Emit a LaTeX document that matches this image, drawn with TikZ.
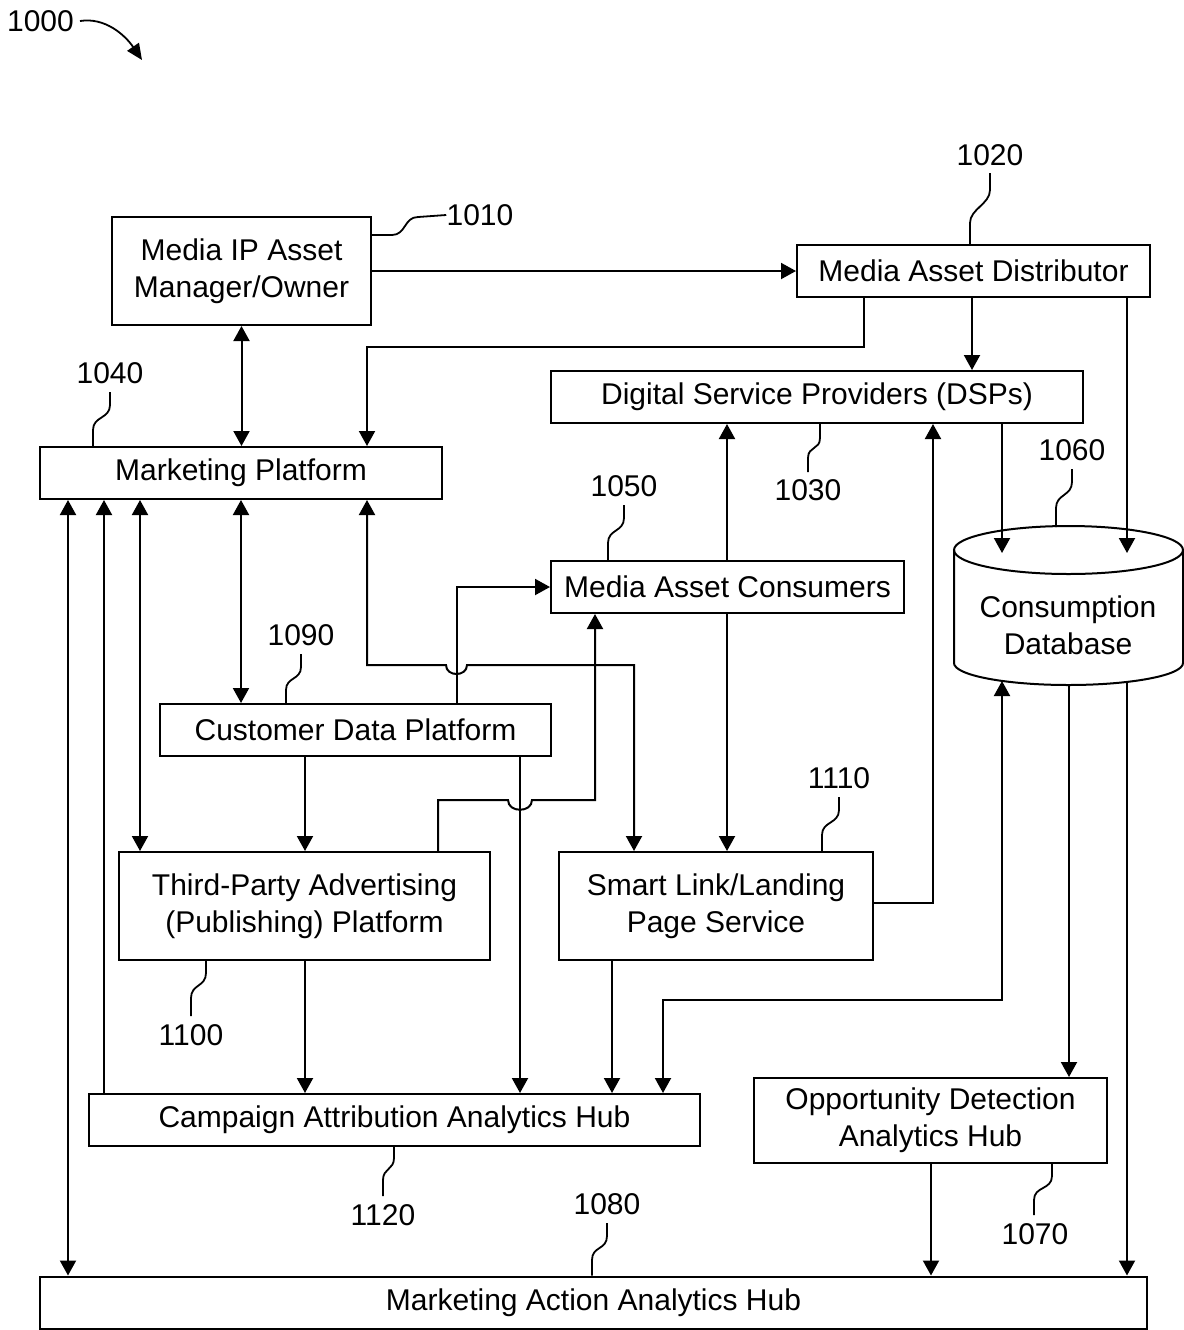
\documentclass[tikz,border=0pt]{standalone}
\usepackage{fontspec}
\setmainfont{Liberation Sans}
\usetikzlibrary{arrows.meta}
\begin{document}
\begin{tikzpicture}[x=0.5pt,y=-0.5pt,
  every node/.style={font=\fontsize{15pt}{18.5pt}\selectfont},
  box/.style={draw, line width=1pt, inner sep=0pt, align=center},
  wire/.style={line width=1pt},
  lead/.style={line width=0.9pt},
  num/.style={inner sep=0pt},
  >={Triangle[length=7.5pt,width=8pt]}]
\useasboundingbox (0,0) rectangle (1184,1330);

% ---- blocks ----
\node[box, minimum width=129.5pt, minimum height=54pt] (ipam) at (241.5,271) {Media IP Asset\\Manager/Owner};
\node[box, minimum width=176.5pt, minimum height=26pt] (mad) at (973.5,271) {Media Asset Distributor};
\node[box, minimum width=266pt, minimum height=26pt] (dsp) at (817,397) {Digital Service Providers (DSPs)};
\node[box, minimum width=201pt, minimum height=26pt] (mp) at (241,473) {Marketing Platform};
\node[box, minimum width=176.5pt, minimum height=26pt] (mac) at (727.5,587) {Media Asset Consumers};
\node[box, minimum width=195.5pt, minimum height=26pt] (cdp) at (355.5,730) {Customer Data Platform};
\node[box, minimum width=185.5pt, minimum height=54pt] (tpa) at (304.5,906) {Third-Party Advertising\\(Publishing) Platform};
\node[box, minimum width=157pt, minimum height=54pt] (sls) at (716,906) {Smart Link/Landing\\Page Service};
\node[box, minimum width=305.5pt, minimum height=26pt] (cah) at (394.5,1120) {Campaign Attribution Analytics Hub};
\node[box, minimum width=176.5pt, minimum height=42.5pt] (oda) at (930.5,1120.5) {Opportunity Detection\\Analytics Hub};
\node[box, minimum width=553.5pt, minimum height=26pt] (maah) at (593.5,1302.5) {Marketing Action Analytics Hub};

% ---- consumption database (cylinder) ----
\draw[line width=1pt] (1068.5,550) ellipse [x radius=57.25pt, y radius=12pt];
\draw[line width=1pt] (954,550) -- (954,663)
  arc[start angle=180, end angle=360, x radius=57.25pt, y radius=11pt] -- (1183,550);
\node[align=center] (cdb) at (1068,625) {Consumption\\Database};
\coordinate (cdbTL) at (1002,553);
\coordinate (cdbTR) at (1127,553);
\coordinate (cdbBL) at (1002,681);
\coordinate (cdbBM) at (1069,685);
\coordinate (cdbBR) at (1127,682);

% ---- connectors ----
\draw[wire,->] (ipam) -- (mad);
\draw[wire,<->] (ipam.south) -- (ipam.south |- mp.north);
\draw[wire,->] (mad.south -| 864,0) -- (864,347) -| (mp.north -| 367,0);
\draw[wire,->] (mad.south -| 972,0) -- (dsp.north -| 972,0);
\draw[wire,->] (mad.south -| 1127,0) -- (cdbTR);
\draw[wire,->] (dsp.south -| 1002,0) -- (cdbTL);
\draw[wire,->] (mac.north -| 727,0) -- (dsp.south -| 727,0);
\draw[wire,->] (mac.south -| 727,0) -- (sls.north -| 727,0);
\draw[wire,->] (sls.east |- 0,903) -| (dsp.south -| 933,0);

\draw[wire,<->] (mp.south -| 68,0) -- (maah.north -| 68,0);
\draw[wire,->] (cah.north -| 104,0) -- (mp.south -| 104,0);
\draw[wire,<->] (mp.south -| 140,0) -- (tpa.north -| 140,0);
\draw[wire,<->] (mp.south -| 241,0) -- (cdp.north -| 241,0);
\draw[wire,<->] (mp.south -| 367,0) -- (367,665) -- (446,665)
  .. controls (446,677) and (467,677) .. (467,665) -| (sls.north -| 634,0);
\draw[wire,->] (cdp.north -| 457,0) |- (mac.west);
\draw[wire,->] (tpa.north -| 438,0) -- (438,800) -- (508,800)
  .. controls (508,813) and (532,813) .. (532,800) -| (mac.south -| 595,0);
\draw[wire,->] (cdp.south -| 305,0) -- (tpa.north -| 305,0);
\draw[wire,->] (cdp.south -| 520,0) -- (cah.north -| 520,0);
\draw[wire,->] (tpa.south -| 305,0) -- (cah.north -| 305,0);
\draw[wire,->] (sls.south -| 612,0) -- (cah.north -| 612,0);
\draw[wire,<->] (cdbBL) -- (1002,1000) -| (cah.north -| 663,0);
\draw[wire,->] (cdbBM) -- (oda.north -| 1069,0);
\draw[wire,->] (cdbBR) -- (maah.north -| 1127,0);
\draw[wire,->] (oda.south -| 931,0) -- (maah.north -| 931,0);

% ---- reference numerals ----
\node[num] (n1000) at (40.5,21) {1000};
\coordinate (figtip) at (142,60);
\draw[lead,-{Triangle[length=8pt,width=7pt]}] (80,21) .. controls (105,17) and (125,35) .. (figtip);

\node[num] (n1010) at (480,215) {1010};
\draw[lead] (ipam.east |- 0,235) -- (392,235) .. controls +(14,0) and +(-14,0) .. (418,217) -- (n1010.west);

\node[num] (n1020) at (990,155) {1020};
\draw[lead] (990,173) -- (990,190) .. controls +(0,14) and +(0,-14) .. (970,223) -- (mad.north -| 970,0);

\node[num] (n1030) at (808,490) {1030};
\draw[lead] (dsp.south -| 820,0) -- (820,438) .. controls +(0,12) and +(0,-12) .. (808,458) -- (808,472);

\node[num] (n1040) at (110,373) {1040};
\draw[lead] (110,392) -- (110,405) .. controls +(0,14) and +(0,-14) .. (93,430) -- (mp.north -| 93,0);

\node[num] (n1050) at (624,486) {1050};
\draw[lead] (624,505) -- (624,518) .. controls +(0,14) and +(0,-14) .. (608,543) -- (mac.north -| 608,0);

\node[num] (n1060) at (1072,450) {1060};
\draw[lead] (1072,469) -- (1072,482) .. controls +(0,14) and +(0,-14) .. (1056,508) -- (1056,527);

\node[num] (n1090) at (301,635) {1090};
\draw[lead] (301,654) -- (301,667) .. controls +(0,13) and +(0,-13) .. (286,690) -- (cdp.north -| 286,0);

\node[num] (n1110) at (839,778) {1110};
\draw[lead] (839,797) -- (839,810) .. controls +(0,14) and +(0,-14) .. (822,835) -- (sls.north -| 822,0);

\node[num] (n1100) at (191,1035) {1100};
\draw[lead] (tpa.south -| 206,0) -- (206,973) .. controls +(0,14) and +(0,-14) .. (191,998) -- (191,1016);

\node[num] (n1120) at (383,1215) {1120};
\draw[lead] (cah.south -| 394,0) -- (394,1158) .. controls +(0,12) and +(0,-12) .. (383,1180) -- (383,1196);

\node[num] (n1080) at (607,1204) {1080};
\draw[lead] (607,1223) -- (607,1236) .. controls +(0,14) and +(0,-14) .. (592,1260) -- (maah.north -| 592,0);

\node[num] (n1070) at (1035,1234) {1070};
\draw[lead] (oda.south -| 1052,0) -- (1052,1176) .. controls +(0,14) and +(0,-14) .. (1034,1200) -- (1034,1215);
\end{tikzpicture}
\end{document}
